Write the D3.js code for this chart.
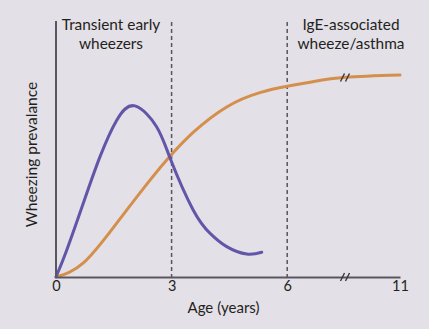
<!DOCTYPE html>
<html>
<head>
<meta charset="utf-8">
<script src="https://cdn.jsdelivr.net/npm/d3@7"></script>
<style>
  html, body { margin: 0; padding: 0; background: #e3e0e7; }
  svg { display: block; font-family: Lato, "Open Sans", sans-serif; }
</style>
</head>
<body>
<svg id="chart" width="429" height="329"></svg>
<script>
// Age in years and wheezing prevalence (relative units, 0–100)
const transientAge  = [0, 0.28, 0.71, 1.14, 1.58, 2.05, 2.61, 2.98, 3.56, 4.00, 4.43, 4.95, 5.34];
const transientPrev = [0, 10.6, 29.0, 47.1, 61.6, 67.1, 58.9, 45.9, 26.3, 17.1, 11.9, 9.0, 9.7];

const igeAge  = [0, 0.71, 1.58, 2.44, 2.98, 3.56, 4.43, 5.29, 6.0, 6.67, 7.54, 11];
const igePrev = [0, 5.5, 21.2, 38.0, 47.7, 56.7, 66.7, 72.3, 74.8, 76.6, 78.3, 79.2];

const tickAges   = [0, 3, 6, 11];
const tickLabels = ["0", "3", "6", "11"];
const phaseAges  = [3, 6];
const breakAge   = 7.5;

const svg = d3.select("#chart");

// Piecewise x scale: linear up to the axis break, compressed after it
const x = d3.scaleLinear().domain([0, breakAge, 11]).range([56, 345, 400]);
const y = d3.scaleLinear().domain([0, 100]).range([277, 22]);

// Phase dividers
svg.selectAll("line.phase").data(phaseAges).join("line")
  .attr("class", "phase")
  .attr("x1", d => x(d)).attr("x2", d => x(d))
  .attr("y1", y(100)).attr("y2", y(0))
  .attr("stroke", "#58545e").attr("stroke-width", 1.5)
  .attr("stroke-dasharray", "4,3");

// Curves
const line = d3.line().x(d => x(d[0])).y(d => y(d[1])).curve(d3.curveNatural);

svg.append("path")
  .datum(igeAge.map((a, i) => [a, igePrev[i]]))
  .attr("d", line)
  .attr("fill", "none").attr("stroke", "#d58f4d").attr("stroke-width", 3)
  .attr("stroke-linecap", "round");

svg.append("path")
  .datum(transientAge.map((a, i) => [a, transientPrev[i]]))
  .attr("d", line)
  .attr("fill", "none").attr("stroke", "#6256a8").attr("stroke-width", 3)
  .attr("stroke-linecap", "round");

// Axes
const xAxis = d3.axisBottom(x).tickValues(tickAges)
  .tickFormat((d, i) => tickLabels[i]).tickSize(0).tickPadding(4);
const gx = svg.append("g").attr("transform", `translate(0,${y(0)})`).call(xAxis);
gx.select(".domain").attr("stroke", "#5a5660").attr("stroke-width", 2);
gx.selectAll("text").attr("font-size", 14.5).attr("fill", "#231f20")
  .attr("font-family", "Lato, sans-serif");

svg.append("line")
  .attr("x1", x(0)).attr("x2", x(0))
  .attr("y1", y(100) - 1).attr("y2", y(0))
  .attr("stroke", "#5a5660").attr("stroke-width", 2);

// Break marks on the axis and on the curve
const igeAtBreak = d3.scaleLinear().domain(igeAge).range(igePrev)(breakAge);
[y(0), y(igeAtBreak)].forEach(cy => {
  [-2.5, 2.5].forEach(dx => {
    svg.append("line")
      .attr("x1", x(breakAge) + dx - 2).attr("y1", cy + 4)
      .attr("x2", x(breakAge) + dx + 2).attr("y2", cy - 4)
      .attr("stroke", "#3a363e").attr("stroke-width", 1.4);
  });
});

// Axis titles
svg.append("text")
  .attr("x", 223.5).attr("y", 313)
  .attr("text-anchor", "middle").attr("font-size", 15).attr("fill", "#231f20")
  .text("Age (years)");

svg.append("text")
  .attr("transform", "translate(37,154.5) rotate(-90)")
  .attr("text-anchor", "middle").attr("font-size", 15.5).attr("fill", "#231f20")
  .text("Wheezing prevalance");

// Phase labels
const phaseText = [
  { cx: 111, lines: ["Transient early", "wheezers"] },
  { cx: 351, lines: ["IgE-associated", "wheeze/asthma"] }
];
phaseText.forEach(p => {
  p.lines.forEach((t, i) => {
    svg.append("text")
      .attr("x", p.cx).attr("y", 30 + i * 18.5)
      .attr("text-anchor", "middle").attr("font-size", 15.4).attr("fill", "#231f20")
      .text(t);
  });
});
</script>
</body>
</html>
